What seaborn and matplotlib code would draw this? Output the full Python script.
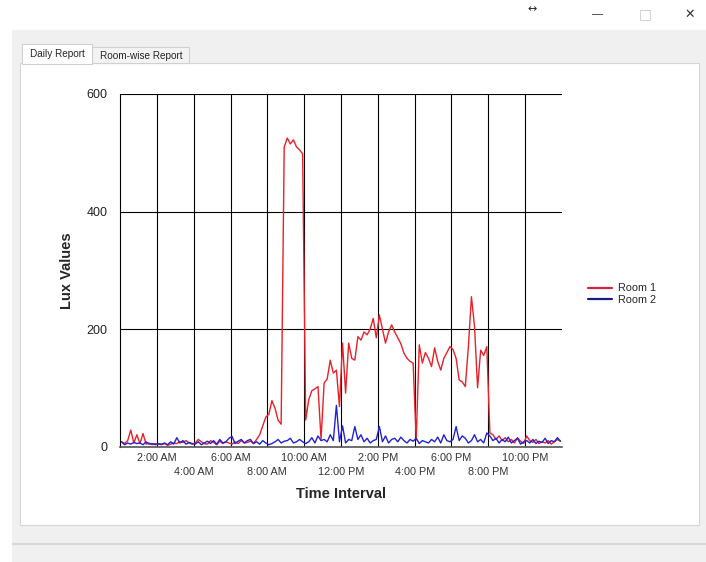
import numpy as np
import pandas as pd
import matplotlib
matplotlib.use("Agg")
import matplotlib.pyplot as plt
from matplotlib.patches import Rectangle
import seaborn as sns

## Datos: lecturas de lux cada 10 minutos (24 h x 6)

room1_lux = [
    8, 5, 10, 28, 6, 20,          # 0h
    5, 22, 4, 6, 3, 5,            # 1h
    4, 3, 5, 2, 4, 6,             # 2h
    5, 8, 7, 10, 6, 4,            # 3h
    6, 12, 8, 5, 4, 10,           # 4h
    7, 3, 9, 5, 8, 6,             # 5h
    4, 8, 5, 10, 6, 7,            # 6h
    9, 5, 12, 20, 35, 50,         # 7h
    55, 78, 65, 45, 38, 510,      # 8h
    525, 515, 522, 510, 505, 498, # 9h
    45, 80, 95, 98, 102, 12,      # 10h
    108, 115, 147, 125, 130, 68,  # 11h
    176, 91, 176, 150, 147, 187,  # 12h
    181, 195, 190, 200, 218, 185, # 13h
    224, 200, 176, 195, 207, 195, # 14h
    185, 175, 159, 150, 145, 142, # 15h
    11, 173, 142, 160, 150, 136,  # 16h
    168, 145, 130, 150, 160, 170, # 17h
    165, 150, 113, 110, 102, 170, # 18h
    255, 204, 100, 164, 155, 170, # 19h
    23, 20, 12, 18, 10, 15,       # 20h
    8, 12, 6, 15, 9, 5,           # 21h
    18, 10, 7, 12, 5, 8,          # 22h
    6, 10, 4, 8, 12, 9,           # 23h
]

room2_lux = [
    8, 3, 6, 4, 7, 5,
    6, 3, 8, 4, 5, 3,
    5, 4, 6, 3, 8, 4,
    15, 6, 10, 4, 7, 5,
    4, 8, 3, 6, 9, 5,
    10, 4, 12, 6, 8, 14,
    17, 5, 9, 12, 6, 10,
    12, 5, 8, 4, 10, 6,
    3, 5, 8, 12, 6, 9,
    10, 14, 6, 8, 12, 8,
    5, 8, 15, 6, 18, 10,
    12, 8, 20, 10, 70, 8,
    35, 6, 12, 10, 34, 12,
    20, 8, 14, 6, 10, 12,
    34, 8, 18, 6, 12, 14,
    8, 16, 10, 6, 12, 9,
    14, 5, 10, 8, 6, 12,
    8, 16, 6, 20, 10, 8,
    12, 34, 10, 18, 14, 6,
    10, 20, 8, 12, 6, 23,
    18, 10, 14, 6, 12, 8,
    16, 6, 10, 14, 4, 8,
    10, 6, 12, 5, 9, 7,
    14, 5, 10, 8, 15, 9,
]

# fila superior / fila inferior de etiquetas del eje x
tick_hours_top = [2, 6, 10, 14, 18, 22]
tick_labels_top = ["2:00 AM", "6:00 AM", "10:00 AM", "2:00 PM", "6:00 PM", "10:00 PM"]
tick_hours_bottom = [4, 8, 12, 16, 20]
tick_labels_bottom = ["4:00 AM", "8:00 AM", "12:00 PM", "4:00 PM", "8:00 PM"]
y_ticks = [0, 200, 400, 600]

horas = (np.arange(len(room1_lux)) + 0.5) / 6
df = pd.DataFrame({
    "Hora": np.concatenate([horas, horas]),
    "Lux": room1_lux + room2_lux,
    "Room": ["Room 1"] * len(room1_lux) + ["Room 2"] * len(room2_lux),
})

## Figura con "ventana" de fondo

sns.set_style("white")
plt.rcParams['font.family'] = ['Liberation Sans', 'DejaVu Sans']

W, H = 706, 562
fig = plt.figure(figsize=(W / 100, H / 100), dpi=100)


def caja(x0, y0, x1, y1, color, borde=None, lw=0.8):
    r = Rectangle((x0 / W, 1 - y1 / H), (x1 - x0) / W, (y1 - y0) / H,
                  transform=fig.transFigure, facecolor=color,
                  edgecolor=borde if borde else color, lw=lw, zorder=-5)
    fig.patches.append(r)


caja(12, 30, 706, 562, "#f0f0f0")
caja(20, 63, 699, 525, "white", "#d6d6d6")
caja(12, 543, 706, 544, "#d8d8d8")
caja(92, 47, 189, 63, "#f3f3f3", "#d0d0d0")
caja(22, 44, 92, 64, "white", "#d0d0d0")
fig.text(57 / W, 1 - 54 / H, "Daily Report", fontsize=7.2, ha="center", va="center")
fig.text(141 / W, 1 - 56 / H, "Room-wise Report", fontsize=7.2, ha="center", va="center")

fig.text(532 / W, 1 - 9 / H, "↔", fontsize=8, ha="center", va="center",
         family=["DejaVu Sans"])
fig.text(598 / W, 1 - 14 / H, "—", fontsize=8, ha="center", va="center", color="#222222")
fig.text(645 / W, 1 - 14 / H, "□", fontsize=10, ha="center", va="center",
         color="#c8c8c8", family=["DejaVu Sans"])
fig.text(690 / W, 1 - 14 / H, "✕", fontsize=9, ha="center", va="center",
         color="#333333", family=["DejaVu Sans"])

## Grafica

ax = fig.add_axes([120 / W, 1 - 446.5 / H, (562 - 120) / W, (446.5 - 94) / H])
sns.lineplot(data=df, x="Hora", y="Lux", hue="Room", ax=ax,
             palette={"Room 1": "#e8202a", "Room 2": "#2222d0"},
             linewidth=1.0, legend=False, zorder=3)

ax.set_xlim(0, 24)
ax.set_ylim(0, 600)
ax.set_xticks(tick_hours_top)
ax.set_xticklabels(tick_labels_top, fontsize=7.8, color="#333333")
ax.set_xticks(tick_hours_bottom, minor=True)
ax.set_xticklabels(tick_labels_bottom, minor=True, fontsize=7.8, color="#333333")
ax.set_yticks(y_ticks)
ax.set_yticklabels([str(v) for v in y_ticks], fontsize=9, color="#222222")
ax.grid(True, which="both", color="black", lw=0.8)
ax.set_axisbelow(True)
for s in ["top", "right"]:
    ax.spines[s].set_visible(False)
ax.spines["left"].set_color("black")
ax.spines["left"].set_linewidth(0.8)
ax.spines["bottom"].set_color("#555555")
ax.spines["bottom"].set_linewidth(1.2)
ax.tick_params(axis="both", which="both", direction="out", length=3, width=0.8,
               color="black", pad=2)
ax.tick_params(axis="x", which="minor", pad=12)
ax.tick_params(axis="y", pad=6)

ax.set_xlabel("Time Interval", fontsize=10.5, fontweight="bold", labelpad=7)
ax.set_ylabel("Lux Values", fontsize=10.5, fontweight="bold", labelpad=9)

handles = [plt.Line2D([], [], color="#c8283a", lw=1.6),
           plt.Line2D([], [], color="#1a1a8a", lw=1.6)]
fig.legend(handles, ["Room 1", "Room 2"], loc="center left",
           bbox_to_anchor=(584 / W, 1 - 294 / H), frameon=False, fontsize=7.8,
           handlelength=2.2, handletextpad=0.5, labelspacing=0.1, borderaxespad=0)

fig.savefig("out.png", dpi=100, facecolor="white")
